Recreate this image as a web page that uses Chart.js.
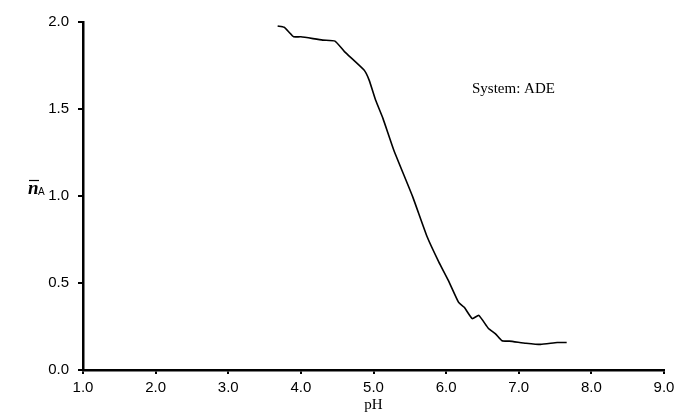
<!DOCTYPE html>
<html>
<head>
<meta charset="utf-8">
<script src="https://cdn.jsdelivr.net/npm/chart.js@4"></script>
<style>
  html, body { margin: 0; padding: 0; background: #fff; }
  #wrap { width: 674px; height: 416px; }
</style>
</head>
<body>
<div id="wrap"><canvas id="chart" width="674" height="416"></canvas></div>
<script>
// pH values and average ligand number (n-bar A)
var phValues = [3.68, 3.77, 3.84, 3.90, 4.00, 4.30, 4.47, 4.60, 4.87, 4.94,
                5.03, 5.13, 5.28, 5.54, 5.74, 5.90, 6.03, 6.17, 6.25, 6.36,
                6.45, 6.58, 6.68, 6.77, 6.87, 7.10, 7.30, 7.53, 7.66];
var nA = [1.977, 1.97, 1.94, 1.915, 1.915, 1.896, 1.89, 1.83, 1.724, 1.666,
          1.55, 1.446, 1.263, 0.995, 0.764, 0.62, 0.515, 0.39, 0.36, 0.295,
          0.314, 0.24, 0.208, 0.168, 0.166, 0.154, 0.147, 0.158, 0.158];
var xTicks = [1, 2, 3, 4, 5, 6, 7, 8, 9];
var yTicks = [0, 0.5, 1.0, 1.5, 2.0];

var points = [];
for (var i = 0; i < phValues.length; i++) {
    points.push({x: phValues[i], y: nA[i]});
}

var tickFont = {family: '"Liberation Sans"', size: 15};

// extra labels: y title (n bar A), x title, system note
var labelsPlugin = {
    id: 'labels',
    afterDraw: function (chart) {
        var c = chart.ctx;
        var area = chart.chartArea;
        c.save();
        c.fillStyle = '#000';
        c.strokeStyle = '#000';
        c.textBaseline = 'alphabetic';

        // n bar
        c.font = 'italic bold 19px "Liberation Serif"';
        c.textAlign = 'left';
        c.fillText('n', 28, 194);
        c.lineWidth = 1.2;
        c.beginPath();
        c.moveTo(29, 180.5);
        c.lineTo(39, 180.5);
        c.stroke();
        c.font = '10px "Liberation Sans"';
        c.fillText('A', 38, 195);

        // x title
        c.font = '15px "Liberation Serif"';
        c.textAlign = 'center';
        c.fillText('pH', (area.left + area.right) / 2, 409);

        // system label
        c.font = '15px "Liberation Serif"';
        c.textAlign = 'left';
        c.fillText('System: ADE', 472, 93);
        c.restore();
    }
};

var ctx = document.getElementById('chart');
new Chart(ctx, {
    type: 'scatter',
    data: {
        datasets: [{
            data: points,
            showLine: true,
            borderColor: '#000',
            borderWidth: 1.6,
            pointRadius: 0,
            tension: 0.15,
            fill: false
        }]
    },
    options: {
        responsive: false,
        animation: false,
        layout: {padding: {top: 22, right: 10, left: 0, bottom: 0}},
        plugins: {legend: {display: false}, tooltip: {enabled: false}},
        scales: {
            x: {
                type: 'linear',
                min: 1, max: 9,
                afterBuildTicks: function (scale) {
                    scale.ticks = xTicks.map(function (v) { return {value: v}; });
                },
                afterFit: function (scale) {
                    scale.height = 46;
                    scale.paddingRight = 0;
                    scale.paddingLeft = 0;
                },
                border: {display: true, color: '#000', width: 2.5},
                grid: {display: true, drawOnChartArea: false, drawTicks: true, tickLength: 4, color: '#000', lineWidth: 2},
                ticks: {
                    color: '#000',
                    padding: 5,
                    maxRotation: 0,
                    font: tickFont,
                    callback: function (v) { return v.toFixed(1); }
                }
            },
            y: {
                min: 0, max: 2,
                afterBuildTicks: function (scale) {
                    scale.ticks = yTicks.map(function (v) { return {value: v}; });
                },
                afterFit: function (scale) {
                    scale.width = 83;
                    scale.paddingTop = 0;
                    scale.paddingBottom = 0;
                },
                border: {display: true, color: '#000', width: 2.5},
                grid: {display: true, drawOnChartArea: false, drawTicks: true, tickLength: 5, color: '#000', lineWidth: 2},
                ticks: {
                    color: '#000',
                    padding: 9,
                    font: tickFont,
                    callback: function (v) { return v.toFixed(1); }
                }
            }
        }
    },
    plugins: [labelsPlugin]
});
</script>
</body>
</html>
